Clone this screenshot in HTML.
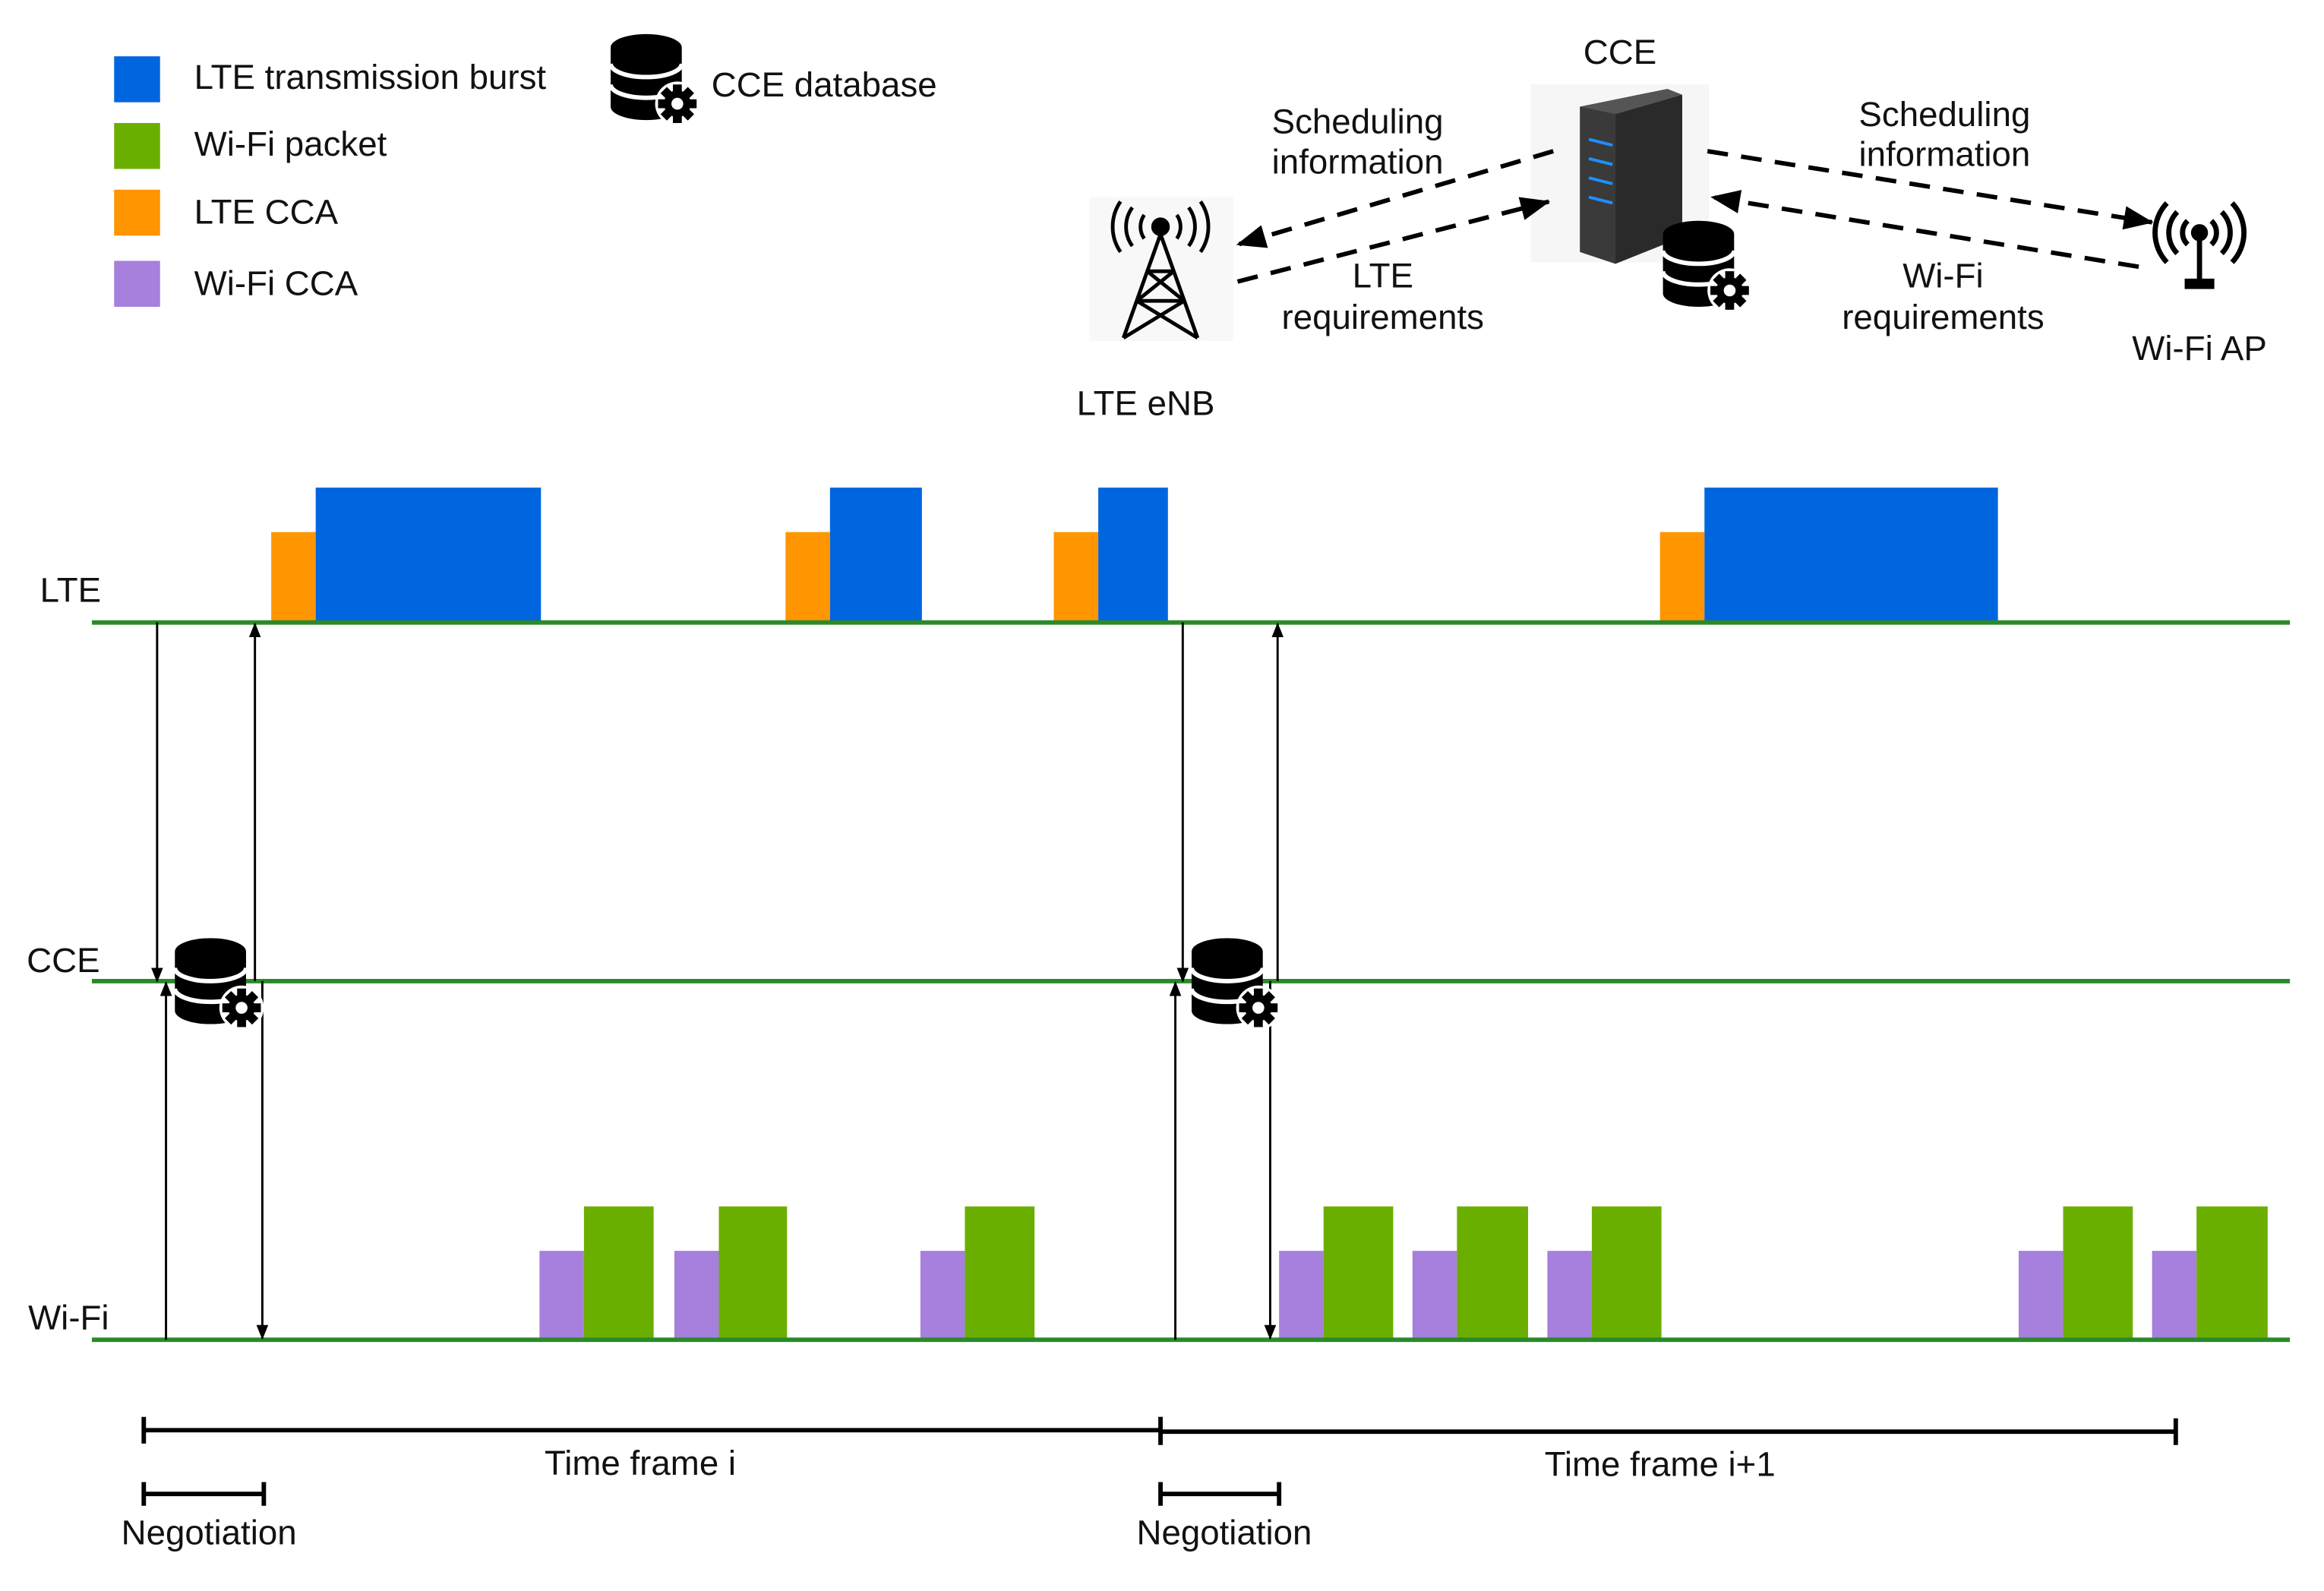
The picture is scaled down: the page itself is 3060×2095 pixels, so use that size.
<!DOCTYPE html>
<html><head><meta charset="utf-8"><style>
html,body{margin:0;padding:0;background:#fff}
svg{display:block}
text{font-family:"Liberation Sans",sans-serif;font-size:23.4px;fill:#111}
</style></head><body>
<svg width="3060" height="2095" viewBox="0 0 1568 1073.5" preserveAspectRatio="none" xmlns="http://www.w3.org/2000/svg">
<defs>
<g id="db">
 <path d="M0 10 A24 9 0 0 1 48 10 L48 50 A24 9 0 0 1 0 50 Z" fill="#000"/>
 <path d="M0 21 A24 9 0 0 0 48 21" fill="none" stroke="#fff" stroke-width="3"/>
 <path d="M0 35 A24 9 0 0 0 48 35" fill="none" stroke="#fff" stroke-width="3"/>
 <circle cx="45" cy="48" r="15" fill="#fff"/>
 <g transform="translate(45 48)">
  <circle r="9" fill="#000"/>
  <g fill="#000">
   <rect x="-3" y="-13" width="6" height="26"/>
   <rect x="-3" y="-13" width="6" height="26" transform="rotate(45)"/>
   <rect x="-3" y="-13" width="6" height="26" transform="rotate(90)"/>
   <rect x="-3" y="-13" width="6" height="26" transform="rotate(135)"/>
  </g>
  <circle r="4" fill="#fff"/>
 </g>
</g>
<marker id="ah" markerWidth="10" markerHeight="10" refX="9" refY="5" orient="auto" markerUnits="userSpaceOnUse"><path d="M0 1 L10 5 L0 9 Z" fill="#000"/></marker>
<marker id="ahb" markerWidth="20" markerHeight="16" refX="19" refY="8" orient="auto" markerUnits="userSpaceOnUse"><path d="M0 0 L20 8 L0 16 Z" fill="#000"/></marker>
</defs>

<rect x="77" y="38" width="31" height="31" fill="#0066e0"/>
<rect x="77" y="83" width="31" height="31" fill="#6aaf00"/>
<rect x="77" y="128" width="31" height="31" fill="#ff9500"/>
<rect x="77" y="176" width="31" height="31" fill="#a77fdd"/>
<text x="131" y="60">LTE transmission burst</text>
<text x="131" y="105">Wi-Fi packet</text>
<text x="131" y="151">LTE CCA</text>
<text x="131" y="199">Wi-Fi CCA</text>
<use href="#db" x="412" y="22"/>
<text x="480" y="65">CCE database</text>

<text x="1093" y="43" text-anchor="middle">CCE</text>
<rect x="1033" y="57" width="120" height="120" fill="#f6f6f6"/>
<path d="M1066 72 L1125 60 L1135 64 L1135 160 L1090 178 L1066 170 Z" fill="#2a2a2a"/>
<path d="M1066 72 L1090 77 L1090 178 L1066 170 Z" fill="#3a3a3a"/>
<path d="M1066 72 L1125 60 L1135 64 L1090 77 Z" fill="#555"/>
<g stroke="#1e90ff" stroke-width="2"><line x1="1072" y1="94" x2="1088" y2="98"/><line x1="1072" y1="107" x2="1088" y2="111"/><line x1="1072" y1="120" x2="1088" y2="124"/><line x1="1072" y1="133" x2="1088" y2="137"/></g>
<use href="#db" x="1122" y="148"/>

<rect x="735" y="133" width="97" height="97" fill="#f8f8f8"/>
<g stroke="#000" stroke-width="2.5" fill="none">
 <circle cx="783" cy="153" r="5" fill="#000"/>
 <line x1="783" y1="158" x2="758" y2="228"/><line x1="783" y1="158" x2="808" y2="228"/>
 <line x1="774" y1="183" x2="792" y2="183"/><line x1="767" y1="203" x2="799" y2="203"/>
 <line x1="774" y1="183" x2="799" y2="203"/><line x1="792" y1="183" x2="767" y2="203"/>
 <line x1="767" y1="203" x2="808" y2="228"/><line x1="799" y1="203" x2="758" y2="228"/>
 <path d="M772 145 A14 14 0 0 0 772 161"/><path d="M794 145 A14 14 0 0 1 794 161"/>
 <path d="M764 140 A22 22 0 0 0 764 166"/><path d="M802 140 A22 22 0 0 1 802 166"/>
 <path d="M756 136 A30 30 0 0 0 756 170"/><path d="M810 136 A30 30 0 0 1 810 170"/>
</g>
<text x="773" y="280" text-anchor="middle">LTE eNB</text>

<g stroke="#000" stroke-width="3.5" fill="none">
 <circle cx="1484" cy="157" r="4" fill="#000"/>
 <line x1="1484" y1="160" x2="1484" y2="190"/>
 <path d="M1476 149 A11 11 0 0 0 1476 165"/><path d="M1492 149 A11 11 0 0 1 1492 165"/>
 <path d="M1469 143 A20 20 0 0 0 1469 171"/><path d="M1499 143 A20 20 0 0 1 1499 171"/>
 <path d="M1462 137 A29 29 0 0 0 1462 177"/><path d="M1506 137 A29 29 0 0 1 1506 177"/>
</g>
<rect x="1474" y="188" width="20" height="7" fill="#000"/>
<text x="1484" y="243" text-anchor="middle">Wi-Fi AP</text>

<g stroke="#000" stroke-width="3" stroke-dasharray="14 9" fill="none">
 <line x1="1048" y1="102" x2="835" y2="165" marker-end="url(#ahb)"/>
 <line x1="835" y1="190" x2="1045" y2="136" marker-end="url(#ahb)"/>
 <line x1="1152" y1="102" x2="1452" y2="150" marker-end="url(#ahb)"/>
 <line x1="1443" y1="180" x2="1155" y2="133" marker-end="url(#ahb)"/>
</g>
<text x="916" y="90" text-anchor="middle">Scheduling</text>
<text x="916" y="117" text-anchor="middle">information</text>
<text x="933" y="194" text-anchor="middle">LTE</text>
<text x="933" y="222" text-anchor="middle">requirements</text>
<text x="1312" y="85" text-anchor="middle">Scheduling</text>
<text x="1312" y="112" text-anchor="middle">information</text>
<text x="1311" y="194" text-anchor="middle">Wi-Fi</text>
<text x="1311" y="222" text-anchor="middle">requirements</text>

<g fill="#ff9500"><rect x="183" y="359" width="30" height="61"/><rect x="530" y="359" width="30" height="61"/><rect x="711" y="359" width="30" height="61"/><rect x="1120" y="359" width="30" height="61"/></g>
<g fill="#0066e0"><rect x="213" y="329" width="152" height="91"/><rect x="560" y="329" width="62" height="91"/><rect x="741" y="329" width="47" height="91"/><rect x="1150" y="329" width="198" height="91"/></g>
<g fill="#a77fdd"><rect x="364" y="844" width="30" height="60"/><rect x="455" y="844" width="30" height="60"/><rect x="621" y="844" width="30" height="60"/><rect x="863" y="844" width="30" height="60"/><rect x="953" y="844" width="30" height="60"/><rect x="1044" y="844" width="30" height="60"/><rect x="1362" y="844" width="30" height="60"/><rect x="1452" y="844" width="30" height="60"/></g>
<g fill="#6aaf00"><rect x="394" y="814" width="47" height="90"/><rect x="485" y="814" width="46" height="90"/><rect x="651" y="814" width="47" height="90"/><rect x="893" y="814" width="47" height="90"/><rect x="983" y="814" width="48" height="90"/><rect x="1074" y="814" width="47" height="90"/><rect x="1392" y="814" width="47" height="90"/><rect x="1482" y="814" width="48" height="90"/></g>

<g stroke="#2a8a2a" stroke-width="3"><line x1="62" y1="420" x2="1545" y2="420"/><line x1="62" y1="662" x2="1545" y2="662"/><line x1="62" y1="904" x2="1545" y2="904"/></g>
<text x="27" y="406">LTE</text>
<text x="18" y="656">CCE</text>
<text x="19" y="897">Wi-Fi</text>

<g stroke="#000" stroke-width="1.5" fill="none">
 <line x1="106" y1="420" x2="106" y2="662" marker-end="url(#ah)"/>
 <line x1="172" y1="662" x2="172" y2="421" marker-end="url(#ah)"/>
 <line x1="112" y1="904" x2="112" y2="663" marker-end="url(#ah)"/>
 <line x1="177" y1="662" x2="177" y2="903" marker-end="url(#ah)"/>
 <line x1="798" y1="420" x2="798" y2="662" marker-end="url(#ah)"/>
 <line x1="862" y1="662" x2="862" y2="421" marker-end="url(#ah)"/>
 <line x1="793" y1="904" x2="793" y2="663" marker-end="url(#ah)"/>
 <line x1="857" y1="662" x2="857" y2="903" marker-end="url(#ah)"/>
</g>
<use href="#db" x="118" y="632"/>
<use href="#db" x="804" y="632"/>

<g stroke="#000" stroke-width="3">
 <line x1="97" y1="965" x2="783" y2="965"/><line x1="783" y1="966" x2="1468" y2="966"/>
 <line x1="97" y1="956" x2="97" y2="974"/><line x1="783" y1="956" x2="783" y2="975"/><line x1="1468" y1="957" x2="1468" y2="975"/>
 <line x1="97" y1="1008" x2="178" y2="1008"/><line x1="97" y1="1000" x2="97" y2="1016"/><line x1="178" y1="1000" x2="178" y2="1016"/>
 <line x1="783" y1="1008" x2="863" y2="1008"/><line x1="783" y1="1000" x2="783" y2="1016"/><line x1="863" y1="1000" x2="863" y2="1016"/>
</g>
<text x="432" y="995" text-anchor="middle">Time frame i</text>
<text x="1120" y="996" text-anchor="middle">Time frame i+1</text>
<text x="141" y="1042" text-anchor="middle">Negotiation</text>
<text x="826" y="1042" text-anchor="middle">Negotiation</text>
</svg>
</body></html>
